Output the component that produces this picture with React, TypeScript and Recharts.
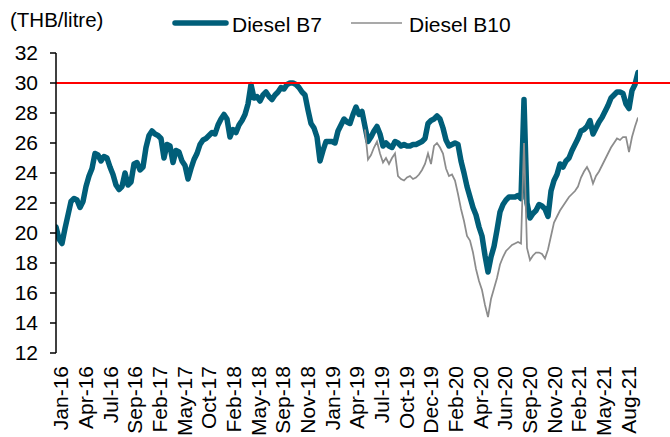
import React from 'react';
import { LineChart, Line, XAxis, YAxis, ReferenceLine, Legend } from 'recharts';

// Diesel retail price, THB/litre, one value per observation
const dieselB7 = [
  20.4, 19.6, 19.3, 20.3, 21.2, 22.1, 22.3, 22.2, 21.7, 22.1,
  23.1, 23.8, 24.3, 25.3, 25.2, 24.8, 25.1, 25.0, 24.4, 23.9,
  23.2, 22.9, 23.1, 24.0, 23.2, 23.4, 24.6, 24.7, 24.2, 24.4,
  25.7, 26.5, 26.8, 26.6, 26.5, 26.3, 25.0, 25.9, 25.8, 24.7,
  25.5, 25.4, 24.8, 24.5, 23.6, 24.3, 24.9, 25.3, 25.9, 26.2,
  26.3, 26.5, 26.7, 26.6, 27.2, 27.6, 27.9, 27.6, 26.4, 26.9,
  26.7, 27.2, 27.5, 27.9, 28.6, 29.9, 29.0, 29.1, 28.8, 29.2,
  29.4, 29.1, 28.9, 29.2, 29.4, 29.7, 29.6, 29.9, 30.0, 30.0,
  29.9, 29.7, 29.4, 29.2, 28.2, 27.3, 27.0, 26.4, 24.8, 25.5,
  26.1, 26.1, 26.1, 26.0, 26.8, 27.2, 27.6, 27.4, 27.3, 27.9,
  28.4, 27.9, 28.1, 27.1, 26.1, 26.4, 26.8, 27.1, 26.6, 25.8,
  26.0, 25.8, 25.7, 26.1, 26.0, 25.8, 25.9, 25.8, 25.8, 25.9,
  25.9, 26.0, 26.1, 26.3, 27.3, 27.5, 27.6, 27.8, 27.6, 27.0,
  26.2, 25.8, 25.9, 26.0, 25.9, 24.8, 24.0, 23.1, 22.4, 21.7,
  21.2, 20.4, 19.8, 18.5, 17.4, 18.4, 19.1, 20.2, 21.4, 21.9,
  22.2, 22.4, 22.4, 22.4, 22.5, 22.3, 28.9, 22.0, 21.0, 21.3,
  21.5, 21.9, 21.8, 21.6, 21.1, 22.8, 23.5, 23.9, 24.6, 24.4,
  24.8, 25.0, 25.5, 25.9, 26.3, 26.8, 26.9, 27.1, 27.5, 26.6,
  27.0, 27.4, 27.7, 28.1, 28.5, 29.0, 29.2, 29.4, 29.4, 29.3,
  28.6, 28.3, 29.5, 29.9, 30.7,
];

// B10 is only quoted from the 104th observation onwards
const b10Start = 103;
const dieselB10 = [
  26.9, 24.9, 25.2, 25.7, 26.1, 25.3, 24.7, 25.0, 24.6, 25.0,
  25.3, 23.8, 23.6, 23.5, 23.7, 23.8, 23.6, 23.7, 23.9, 24.2,
  24.6, 25.3, 24.6, 25.8, 26.0, 25.7, 25.3, 24.3, 23.8, 23.9,
  23.5, 22.6, 21.6, 20.8, 19.8, 19.5, 18.7, 17.6, 16.8, 16.2,
  15.2, 14.4, 15.6, 16.3, 17.0, 17.9, 18.4, 18.8, 19.0, 19.2,
  19.3, 19.4, 19.3, 26.0, 19.0, 18.2, 18.5, 18.7, 18.7, 18.6,
  18.3, 18.9, 19.8, 20.7, 21.1, 21.5, 21.8, 22.1, 22.4, 22.6,
  22.8, 23.1, 23.7, 24.1, 24.4, 24.0, 23.3, 23.8, 24.1, 24.5,
  24.9, 25.3, 25.7, 26.0, 26.3, 26.2, 26.4, 26.4, 25.4, 26.4,
  27.1, 27.7,
];

const dateLabels = [
  'Jan-16', 'Apr-16', 'Jul-16', 'Sep-16', 'Feb-17', 'May-17', 'Oct-17', 'Feb-18',
  'May-18', 'Sep-18', 'Nov-18', 'Jan-19', 'Apr-19', 'Jul-19', 'Oct-19', 'Dec-19',
  'Feb-20', 'Apr-20', 'Jun-20', 'Sep-20', 'Nov-20', 'Feb-21', 'May-21', 'Aug-21',
];

const yTicks = [12, 14, 16, 18, 20, 22, 24, 26, 28, 30, 32];
const priceCap = 30;

const W = 670;
const H = 437;
const FONT = '"Liberation Sans", Arial, sans-serif';
const TEAL = '#005E79';
const GREY = '#8C8C8C';

const data = dieselB7.map((v, i) => ({
  i,
  b7: v,
  b10: i >= b10Start ? dieselB10[i - b10Start] : null,
}));
const last = dieselB7.length - 1;

// excel draws 25 tick marks but spreads the 24 labels a bit wider
const markSpan = 188.7;
const markTicks = Array.from({ length: 25 }, (_, j) => (j * markSpan) / 24);
const labelStart = 1.7;
const labelStep = 8.22;
const labelTicks = dateLabels.map((_, k) => labelStart + k * labelStep);

const DateTick = (props: any) => {
  const { x, y, index } = props;
  return (
    <text
      x={x}
      y={y}
      dy="0.35em"
      transform={`rotate(-90, ${x}, ${y})`}
      textAnchor="end"
      fontSize={21}
      fontFamily={FONT}
      fill="#000"
    >
      {dateLabels[index]}
    </text>
  );
};

const UnitLabel = (props: any) => {
  const { viewBox } = props;
  return (
    <text x={viewBox.x + 10} y={viewBox.y - 26} fontSize={20.5} fontFamily={FONT} fill="#000">
      (THB/litre)
    </text>
  );
};

const LEGEND_H = 40;
const ChartLegend = () => (
  <svg width={W} height={LEGEND_H} style={{ display: 'block' }}>
    <line x1={175} y1={23} x2={226} y2={23} stroke={TEAL} strokeWidth={5.5} strokeLinecap="round" />
    <text x={232} y={31.5} fontSize={21} fontFamily={FONT} fill="#000">Diesel B7</text>
    <line x1={351} y1={23} x2={402} y2={23} stroke={GREY} strokeWidth={1.5} />
    <text x={409} y={31.5} fontSize={21} fontFamily={FONT} fill="#000">Diesel B10</text>
  </svg>
);

const CapLine = (p: any) => (
  <line x1={p.x1} y1={p.y1} x2={W} y2={p.y2} stroke="#FF0000" strokeWidth={2} />
);

export default function App() {
  return (
    <div style={{ position: 'absolute', left: 0, top: 0, background: '#fff' }}>
      <LineChart width={W} height={H} data={data} margin={{ top: 53 - LEGEND_H, right: 32, bottom: 0, left: 0 }}>
        <Legend
          verticalAlign="top"
          align="left"
          height={LEGEND_H}
          content={<ChartLegend />}
          wrapperStyle={{ top: 0, left: 0, width: W }}
        />
        <XAxis
          dataKey="i"
          type="number"
          domain={[0, last]}
          allowDataOverflow
          ticks={markTicks}
          interval={0}
          tick={false}
          tickSize={5}
          height={0}
          axisLine={{ stroke: '#000', strokeWidth: 1.5 }}
          tickLine={{ stroke: '#000', strokeWidth: 1.5 }}
        />
        <XAxis
          xAxisId="labels"
          dataKey="i"
          type="number"
          domain={[0, last]}
          allowDataOverflow
          ticks={labelTicks}
          interval={0}
          tick={<DateTick />}
          tickSize={0}
          tickMargin={13}
          height={84}
          axisLine={false}
          tickLine={false}
        />
        <YAxis
          type="number"
          domain={[12, 32]}
          ticks={yTicks}
          interval={0}
          width={56}
          tickSize={6}
          tickMargin={12}
          axisLine={{ stroke: '#000', strokeWidth: 1.5 }}
          tickLine={{ stroke: '#000', strokeWidth: 1.5 }}
          tick={{ fill: '#000', fontSize: 21, fontFamily: FONT }}
          label={<UnitLabel />}
        />
        <Line
          dataKey="b7"
          name="Diesel B7"
          stroke={TEAL}
          strokeWidth={5.5}
          strokeLinejoin="round"
          strokeLinecap="round"
          dot={false}
          isAnimationActive={false}
        />
        <Line
          dataKey="b10"
          name="Diesel B10"
          stroke={GREY}
          strokeWidth={1.75}
          dot={false}
          isAnimationActive={false}
        />
        <ReferenceLine y={priceCap} shape={<CapLine />} />
      </LineChart>
    </div>
  );
}
